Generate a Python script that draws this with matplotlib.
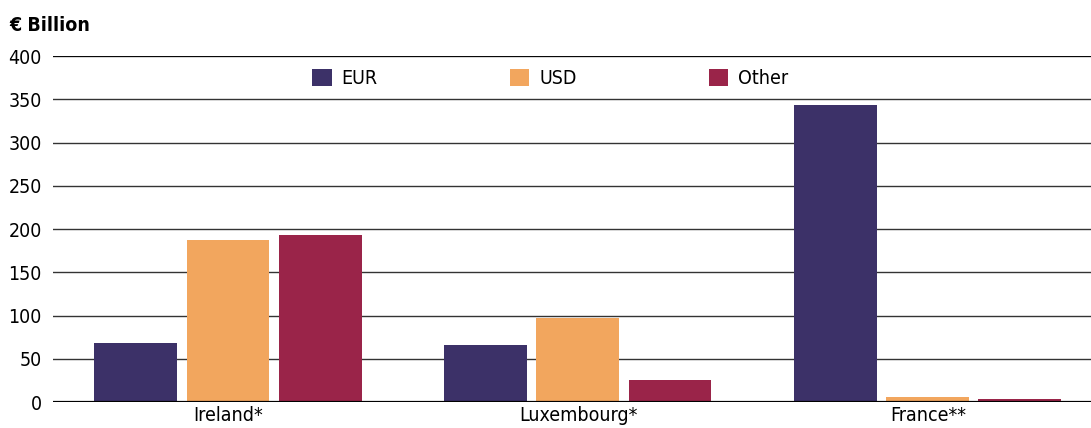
"""bar chart of amounts by currency per country"""

import numpy as np
import matplotlib.pyplot as plt

plt.rcParams["font.family"] = ["DejaVu Sans"]
plt.rcParams["font.stretch"] = "condensed"

countries = ["Ireland*", "Luxembourg*", "France**"]
eur = [68, 66, 344]
usd = [187, 97, 6]
other = [193, 25, 3.5]

series = [("EUR", eur, "#3c3168"), ("USD", usd, "#f2a65e"), ("Other", other, "#9a2449")]

fig = plt.figure(figsize=(10.91, 4.28), dpi=100)
ax = fig.add_axes([0.0486, 0.0607, 0.9514, 0.808])

x = np.arange(len(countries))
width = 0.237
step = 0.263
for i, (name, vals, col) in enumerate(series):
    ax.bar(x + (i - 1) * step, vals, width=width, color=col, label=name, zorder=3)

ax.set_xlim(-0.5, 2.466)
ax.set_ylim(0, 400)
ax.set_yticks(range(0, 401, 50))
ax.grid(axis="y", color="#333333", linewidth=1.0, zorder=0)
ax.axhline(0, color="black", linewidth=1.6, zorder=4)
ax.axhline(400, color="black", linewidth=1.2, zorder=4)
for s in ax.spines.values():
    s.set_visible(False)
ax.tick_params(axis="both", length=0, labelsize=14, colors="black")
ax.tick_params(axis="y", pad=8)
ax.tick_params(axis="x", pad=3)
ax.set_xticks(x)
ax.set_xticklabels(countries)

ax.legend(loc="upper center", bbox_to_anchor=(0.479, 1.015), ncol=3, frameon=False,
          fontsize=14, handlelength=1.0, handleheight=1.0, handletextpad=0.5,
          columnspacing=6.8)

fig.text(0.009, 0.94, "€ Billion", fontsize=14, fontweight="bold", ha="left", va="center")

fig.savefig("out.png", dpi=100)
